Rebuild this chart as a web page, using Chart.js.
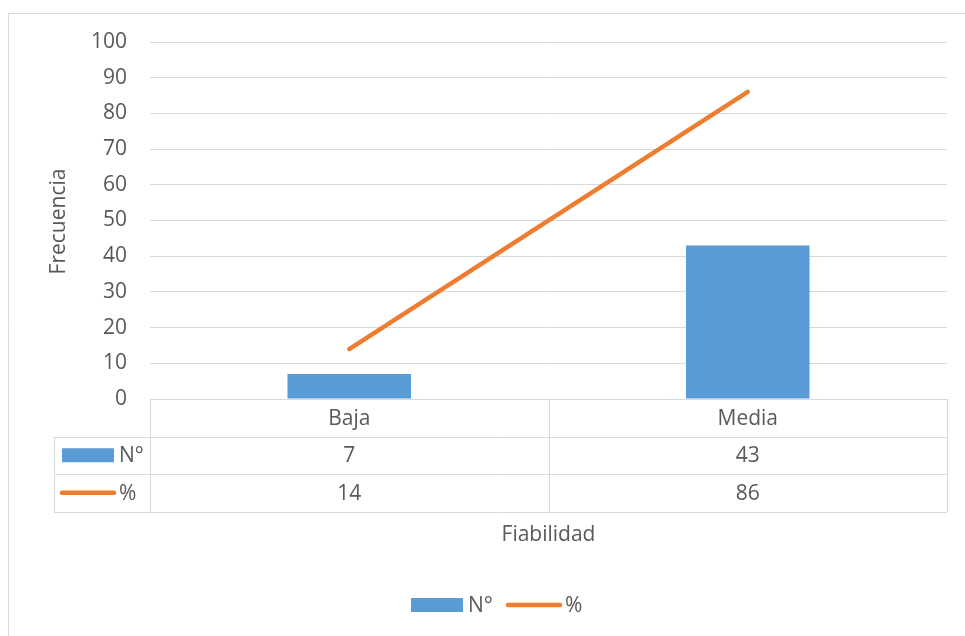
<!DOCTYPE html>
<html lang="es">
<head>
<meta charset="utf-8">
<title>Fiabilidad</title>
<script src="https://cdn.jsdelivr.net/npm/chart.js@4/dist/chart.umd.min.js"></script>
<style>
    html, body { margin: 0; padding: 0; background: #ffffff; }
    #wrap { position: relative; width: 965px; height: 636px; }
</style>
</head>
<body>
<div id="wrap"><canvas id="mainChart"></canvas></div>
<script>
// Data
const categories = ['Baja', 'Media'];
const countValues = [7, 43];
const percentValues = [14, 86];
const seriesNames = ['N°', '%'];
const yTicks = { min: 0, max: 100, step: 10 };

const BLUE = '#5b9bd5';
const ORANGE = '#ed7d31';
const TEXT = '#595959';
const GRID = '#d9d9d9';
const FONT = "'Open Sans', 'Liberation Sans', sans-serif";
const FONT_SIZE = 21;

// Draws the frame, axis titles, data table under the x axis and the legend
const tablePlugin = {
    id: 'dataTable',
    afterDraw(chart) {
        const ctx = chart.ctx;
        const area = chart.chartArea;
        const x = chart.scales.x;
        const rowH = 37.5;
        const keyLeft = 54;
        const top = area.bottom;
        const rows = [top, top + rowH, top + rowH * 2, top + rowH * 3];
        const band = (x.getPixelForValue(1) - x.getPixelForValue(0));

        ctx.save();
        ctx.lineWidth = 1;
        ctx.strokeStyle = GRID;

        // outer frame (top and left edges show)
        ctx.beginPath();
        ctx.moveTo(8.5, 13.5);
        ctx.lineTo(965, 13.5);
        ctx.moveTo(8.5, 13.5);
        ctx.lineTo(8.5, 636);
        ctx.stroke();

        // table grid
        ctx.beginPath();
        ctx.moveTo(area.left, Math.round(rows[0]) + 0.5);
        ctx.lineTo(area.right, Math.round(rows[0]) + 0.5);
        for (let r = 1; r < rows.length; r++) {
            const yy = Math.round(rows[r]) + 0.5;
            ctx.moveTo(keyLeft, yy);
            ctx.lineTo(area.right, yy);
        }
        ctx.moveTo(keyLeft + 0.5, Math.round(rows[1]));
        ctx.lineTo(keyLeft + 0.5, Math.round(rows[3]));
        const cols = [area.left];
        categories.forEach((c, i) => cols.push(x.getPixelForValue(i) + band / 2));
        cols.forEach(cx => {
            const xx = Math.round(cx) + 0.5;
            ctx.moveTo(xx, Math.round(rows[0]));
            ctx.lineTo(xx, Math.round(rows[3]));
        });
        ctx.stroke();

        // table text
        ctx.fillStyle = TEXT;
        ctx.font = FONT_SIZE + 'px ' + FONT;
        ctx.textAlign = 'center';
        ctx.textBaseline = 'middle';
        categories.forEach((c, i) => {
            const cx = x.getPixelForValue(i);
            ctx.fillText(c, cx, rows[0] + rowH / 2 + 1);
            ctx.fillText(String(countValues[i]), cx, rows[1] + rowH / 2 + 1);
            ctx.fillText(String(percentValues[i]), cx, rows[2] + rowH / 2 + 1);
        });

        // series keys inside the table
        const drawBarKey = (x0, yc, label) => {
            ctx.fillStyle = BLUE;
            ctx.fillRect(x0, yc - 7, 52, 14);
            ctx.fillStyle = TEXT;
            ctx.textAlign = 'left';
            ctx.fillText(label, x0 + 57, yc + 1);
        };
        const drawLineKey = (x0, yc, label) => {
            ctx.strokeStyle = ORANGE;
            ctx.lineWidth = 4.5;
            ctx.lineCap = 'round';
            ctx.beginPath();
            ctx.moveTo(x0 + 2, yc);
            ctx.lineTo(x0 + 54, yc);
            ctx.stroke();
            ctx.fillStyle = TEXT;
            ctx.textAlign = 'left';
            ctx.fillText(label, x0 + 59, yc + 1);
        };
        drawBarKey(62, rows[1] + rowH / 2, seriesNames[0]);
        drawLineKey(60, rows[2] + rowH / 2, seriesNames[1]);

        // x axis title
        ctx.fillStyle = TEXT;
        ctx.textAlign = 'center';
        ctx.fillText('Fiabilidad', (area.left + area.right) / 2, 535);

        // y axis title
        ctx.save();
        ctx.translate(59, (area.top + area.bottom) / 2 + 1);
        ctx.rotate(-Math.PI / 2);
        ctx.textAlign = 'center';
        ctx.fillText('Frecuencia', 0, 0);
        ctx.restore();

        // legend
        drawBarKey(411, 605, seriesNames[0]);
        drawLineKey(506, 605, seriesNames[1]);

        ctx.restore();
    }
};

document.addEventListener('DOMContentLoaded', () => {
    const ctx = document.getElementById('mainChart').getContext('2d');
    new Chart(ctx, {
        data: {
            labels: categories,
            datasets: [
                {
                    type: 'line',
                    label: seriesNames[1],
                    data: percentValues,
                    borderColor: ORANGE,
                    borderWidth: 4.5,
                    borderCapStyle: 'round',
                    pointRadius: 0,
                    tension: 0,
                    order: 0
                },
                {
                    type: 'bar',
                    label: seriesNames[0],
                    data: countValues,
                    backgroundColor: BLUE,
                    categoryPercentage: 1,
                    barPercentage: 0.31,
                    order: 1
                }
            ]
        },
        options: {
            responsive: true,
            maintainAspectRatio: false,
            animation: false,
            layout: {
                padding: { left: 0, right: 18, top: 42, bottom: 237 }
            },
            plugins: {
                legend: { display: false },
                tooltip: { enabled: false }
            },
            scales: {
                x: {
                    type: 'category',
                    offset: true,
                    afterFit(scale) { scale.height = 0; },
                    grid: { display: false },
                    border: { display: false },
                    ticks: { display: false }
                },
                y: {
                    min: yTicks.min,
                    max: yTicks.max,
                    afterFit(scale) { scale.width = 150; },
                    border: { display: false },
                    grid: { color: GRID, lineWidth: 1, drawTicks: false },
                    ticks: {
                        stepSize: yTicks.step,
                        padding: 23,
                        color: TEXT,
                        font: { family: FONT, size: FONT_SIZE }
                    }
                }
            }
        },
        plugins: [tablePlugin]
    });
});
</script>
</body>
</html>
